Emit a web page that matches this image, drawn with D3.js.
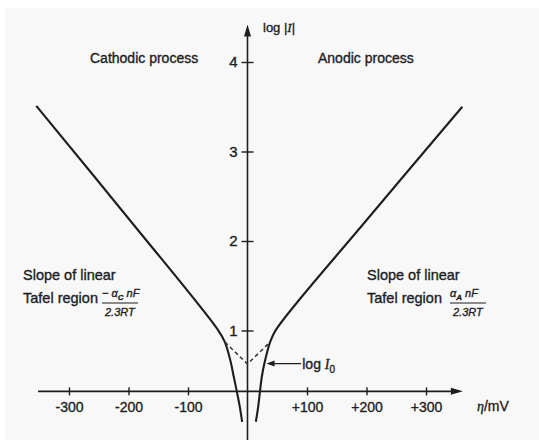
<!DOCTYPE html>
<html>
<head>
<meta charset="utf-8">
<script src="https://cdn.jsdelivr.net/npm/d3@7"></script>
<style>
  body { margin: 0; background: #ffffff; }
  svg text { font-family: "Liberation Sans", Arial, sans-serif; fill: #1e1e1e; stroke: #1e1e1e; stroke-width: 0.35px; }
</style>
</head>
<body>
<svg id="svg"></svg>
<script>

// tick values along the axes
const xTicks = [-300, -200, -100, 100, 200, 300];
const xTickLabels = ["-300", "-200", "-100", "+100", "+200", "+300"];
const yTicks = [1, 2, 3, 4];

// cathodic branch (overpotential in mV, log|I|)
const cathodicEta  = [-355, -201, -50, -38, -29, -23, -18, -13, -9];
const cathodicLogI = [3.51, 2.26, 1.01, 0.87, 0.67, 0.48, 0.32, 0.15, -0.02];

// anodic branch
const anodicEta  = [14, 18, 21, 24, 29, 38, 48, 201, 361];
const anodicLogI = [-0.02, 0.15, 0.32, 0.48, 0.65, 0.87, 1.01, 2.24, 3.50];

// extrapolated Tafel lines meeting at log I0
const tafelEta  = [-38, 0, 38];
const tafelLogI = [0.87, 0.626, 0.87];
const logI0 = 0.63;

const width = 539;
const height = 440;

let svg = d3.select("#svg")
    .attr("width", width)
    .attr("height", height);

// paper background
svg.append("rect")
    .attr("x", 5).attr("y", 8)
    .attr("width", width - 5).attr("height", height - 8)
    .attr("fill", "#f8f8f8");

const xScale = d3.scaleLinear().domain([-300, 300]).range([69, 426]);
const yScale = d3.scaleLinear().domain([0, 4]).range([420, 62]);

const xAxisAt = 0.32;   // log|I| level where the eta axis is drawn
const axisY = yScale(xAxisAt);
const axisX = xScale(0);
const ink = "#1e1e1e";

// eta axis
svg.append("line")
    .attr("x1", xScale(-352)).attr("x2", xScale(355))
    .attr("y1", axisY).attr("y2", axisY)
    .attr("stroke", ink).attr("stroke-width", 1.6);
svg.append("path")
    .attr("d", `M${xScale(362)},${axisY} l-12,-3.5 l0,7 z`)
    .attr("fill", ink);

let xAxis = svg.append("g")
    .attr("transform", `translate(0,${axisY})`)
    .call(d3.axisBottom(xScale)
        .tickValues(xTicks)
        .tickFormat((d, i) => xTickLabels[i])
        .tickSize(4)
        .tickPadding(7));
xAxis.select(".domain").remove();
xAxis.selectAll(".tick line").attr("y1", -4).attr("stroke", ink).attr("stroke-width", 1.4);
xAxis.selectAll(".tick text")
    .style("font-size", "14px")
    .style("font-family", "Liberation Sans, Arial, sans-serif");

// log|I| axis
svg.append("line")
    .attr("x1", axisX).attr("x2", axisX)
    .attr("y1", yScale(4.3)).attr("y2", height)
    .attr("stroke", ink).attr("stroke-width", 1.6);
svg.append("path")
    .attr("d", `M${axisX},${yScale(4.42)} l-3.5,12 l7,0 z`)
    .attr("fill", ink);

let yAxis = svg.append("g")
    .attr("transform", `translate(${axisX},0)`)
    .call(d3.axisLeft(yScale)
        .tickValues(yTicks)
        .tickFormat(d3.format("d"))
        .tickSize(6)
        .tickPadding(4));
yAxis.select(".domain").remove();
yAxis.selectAll(".tick line").attr("x2", 6).attr("x1", -6).attr("stroke", ink).attr("stroke-width", 1.4);
yAxis.selectAll(".tick text")
    .attr("x", -10)
    .style("font-size", "15px")
    .style("font-family", "Liberation Sans, Arial, sans-serif");

// curves
const line = d3.line()
    .x(d => xScale(d[0]))
    .y(d => yScale(d[1]))
    .curve(d3.curveCatmullRom.alpha(0.5));

svg.append("path")
    .datum(cathodicEta.map((e, i) => [e, cathodicLogI[i]]))
    .attr("d", line)
    .attr("fill", "none").attr("stroke", ink).attr("stroke-width", 2.1);

svg.append("path")
    .datum(anodicEta.map((e, i) => [e, anodicLogI[i]]))
    .attr("d", line)
    .attr("fill", "none").attr("stroke", ink).attr("stroke-width", 2.1);

svg.append("path")
    .datum(tafelEta.map((e, i) => [e, tafelLogI[i]]))
    .attr("d", d3.line().x(d => xScale(d[0])).y(d => yScale(d[1])))
    .attr("fill", "none").attr("stroke", "#333").attr("stroke-width", 1.5)
    .attr("stroke-dasharray", "4,3");

// log I0 pointer
svg.append("line")
    .attr("x1", xScale(90)).attr("x2", xScale(35))
    .attr("y1", yScale(logI0)).attr("y2", yScale(logI0))
    .attr("stroke", ink).attr("stroke-width", 1.4);
svg.append("path")
    .attr("d", `M${xScale(32)},${yScale(logI0)} l8,-3 l0,6 z`)
    .attr("fill", ink);
let i0 = svg.append("text")
    .attr("x", xScale(92)).attr("y", yScale(logI0) + 5)
    .style("font-size", "14px");
i0.append("tspan").text("log ");
i0.append("tspan").style("font-style", "italic").style("font-family", "Liberation Serif, serif").text("I");
i0.append("tspan").attr("dy", 4).style("font-size", "10px").text("0");

// axis titles
let yt = svg.append("text")
    .attr("x", 263).attr("y", 32)
    .style("font-size", "13px");
yt.append("tspan").text("log |");
yt.append("tspan").style("font-style", "italic").style("font-family", "Liberation Serif, serif").text("I");
yt.append("tspan").text("|");

let xt = svg.append("text")
    .attr("x", 477).attr("y", 411)
    .style("font-size", "14px");
xt.append("tspan").style("font-style", "italic").style("font-family", "Liberation Serif, serif").text("η");
xt.append("tspan").text("/mV");

// region labels
svg.append("text").attr("x", 90).attr("y", 63).style("font-size", "14px").text("Cathodic process");
svg.append("text").attr("x", 318).attr("y", 63).style("font-size", "14px").text("Anodic process");

function slopeNote(x, sub, sign) {
    svg.append("text").attr("x", x).attr("y", 280).style("font-size", "14.5px").text("Slope of linear");
    svg.append("text").attr("x", x).attr("y", 303).style("font-size", "14.5px").text("Tafel region");
    let fx = x + (sign ? 79 : 83);
    let num = svg.append("text").attr("x", fx).attr("y", 297)
        .style("font-size", "11px").style("font-style", "italic");
    if (sign) num.append("tspan").text("− ");
    num.append("tspan").text("α");
    num.append("tspan").attr("dy", 3).style("font-size", "8px").style("font-weight", "bold").text(sub);
    num.append("tspan").attr("dy", -3).text(" nF");
    svg.append("line")
        .attr("x1", fx).attr("x2", fx + 36)
        .attr("y1", 303).attr("y2", 303)
        .attr("stroke", ink).attr("stroke-width", 1.2);
    svg.append("text").attr("x", fx + 3).attr("y", 316)
        .style("font-size", "11px").style("font-style", "italic").text("2.3RT");
}
slopeNote(23, "C", true);
slopeNote(367, "A", false);

</script>
</body>
</html>
